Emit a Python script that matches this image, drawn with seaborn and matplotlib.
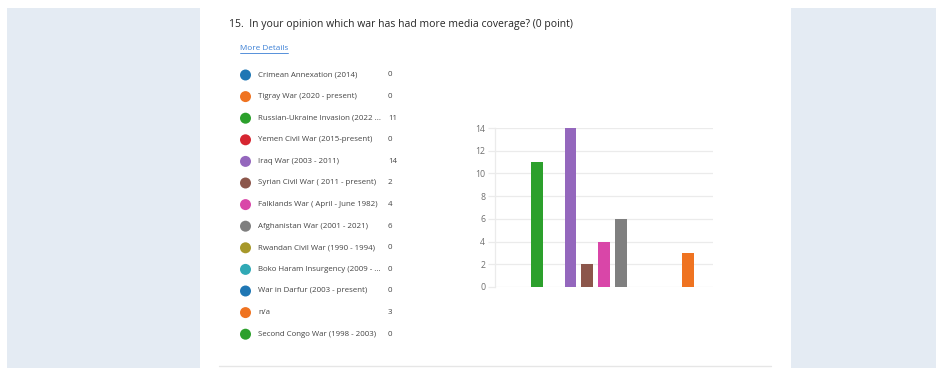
import matplotlib
matplotlib.use("Agg")
import matplotlib.pyplot as plt
import seaborn as sns
import pandas as pd
from matplotlib.patches import Rectangle, Ellipse
from matplotlib.lines import Line2D

# ---- data ----
categories = [
    "Crimean Annexation (2014)",
    "Tigray War (2020 - present)",
    "Russian-Ukraine Invasion (2022 ...",
    "Yemen Civil War (2015-present)",
    "Iraq War (2003 - 2011)",
    "Syrian Civil War ( 2011 - present)",
    "Falklands War ( April - June 1982)",
    "Afghanistan War (2001 - 2021)",
    "Rwandan Civil War (1990 - 1994)",
    "Boko Haram Insurgency (2009 - ...",
    "War in Darfur (2003 - present)",
    "n/a",
    "Second Congo War (1998 - 2003)",
]
counts = [0, 0, 11, 0, 14, 2, 4, 6, 0, 0, 0, 3, 0]
colors = ["#1f77b4", "#ef7321", "#2ca02c", "#d62631", "#9467bd", "#8c564b",
          "#d946a8", "#7f7f7f", "#a7982a", "#30a9b5", "#1f77b4", "#ef7321", "#2ca02c"]
yticks = [0, 2, 4, 6, 8, 10, 12, 14]
title = "15.  In your opinion which war has had more media coverage? (0 point)"
link = "More Details"

sns.set_theme(style="white")
plt.rcParams["font.family"] = ["Open Sans", "DejaVu Sans"]

W, H = 936, 368
fig = plt.figure(figsize=(W / 100, H / 100), dpi=100)
fig.patch.set_facecolor("white")

def fx(x):
    return x / W

def fy(y):
    return 1 - y / H

# side panels
fig.add_artist(Rectangle((fx(7), 0), fx(200) - fx(7), fy(8), transform=fig.transFigure,
                         facecolor="#e4ebf3", edgecolor="none", zorder=0))
fig.add_artist(Rectangle((fx(791), 0), 1 - fx(791), fy(8), transform=fig.transFigure,
                         facecolor="#e4ebf3", edgecolor="none", zorder=0))
# bottom separator
fig.add_artist(Line2D([fx(219), fx(771)], [fy(365.5), fy(365.5)], transform=fig.transFigure,
                      color="#e6e6e6", lw=1))

# title and link
fig.text(fx(229), fy(24), title, fontsize=7.5, color="#262626", va="center", ha="left")
fig.text(fx(240), fy(48), link, fontsize=5.9, color="#3a7fd5", va="center", ha="left")
fig.add_artist(Line2D([fx(240), fx(288)], [fy(53), fy(53)], transform=fig.transFigure,
                      color="#3a7fd5", lw=0.6))

# legend
for i, (c, n, col) in enumerate(zip(categories, counts, colors)):
    y = 75 + i * 21.6
    fig.add_artist(Ellipse((fx(245.5), fy(y)), 11 / W, 11 / H, transform=fig.transFigure,
                           facecolor=col, edgecolor="none"))
    fig.text(fx(258), fy(y), c, fontsize=5.7, color="#444444", va="center", ha="left")
    fig.text(fx(388), fy(y), str(n), fontsize=5.7, color="#444444", va="center", ha="left")

# bar chart
ax = fig.add_axes([fx(495), fy(287), fx(713) - fx(495), fy(128) - fy(287)])
df = pd.DataFrame({"cat": categories, "count": counts})
sns.barplot(data=df, x="cat", y="count", hue="cat", palette=colors, width=0.7,
            legend=False, ax=ax, saturation=1, edgecolor="none", zorder=3)
ax.set_xlim(-0.5, len(categories) - 0.5)
ax.set_ylim(0, 14)
ax.set_yticks(yticks)
ax.set_yticklabels([str(v) for v in yticks], fontsize=6.3, color="#707070")
ax.set_xticks([])
ax.set_xlabel("")
ax.set_ylabel("")
ax.yaxis.grid(True, color="#ebebeb", lw=0.9, zorder=0)
ax.tick_params(axis="y", length=5, width=0.9, color="#ebebeb", pad=2, left=True)
for s in ["top", "right", "bottom"]:
    ax.spines[s].set_visible(False)
ax.spines["left"].set_color("#ebebeb")
ax.spines["left"].set_linewidth(0.9)
ax.set_facecolor("none")

fig.savefig("out.png", dpi=100)
